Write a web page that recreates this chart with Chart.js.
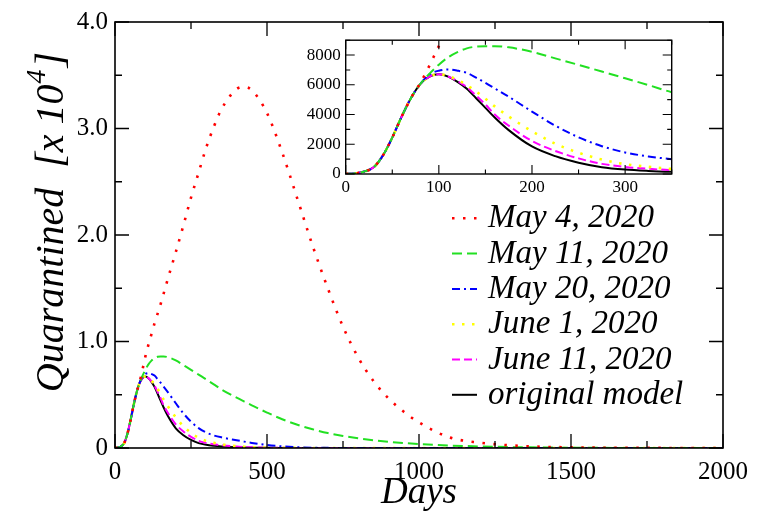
<!DOCTYPE html>
<html>
<head>
<meta charset="utf-8">
<script src="https://cdn.jsdelivr.net/npm/chart.js@4.4.0/dist/chart.umd.min.js"></script>
<style>
  html, body { margin: 0; padding: 0; background: #fff; }
  #wrap { position: relative; width: 757px; height: 517px; }
  #main { position: absolute; left: 0; top: 0; }
  #inset { position: absolute; left: 290px; top: 25px; }
</style>
</head>
<body>
<div id="wrap">
  <canvas id="main" width="757" height="517"></canvas>
  <canvas id="inset" width="395" height="175"></canvas>
</div>
<script>
// days since start, and quarantined counts (people)
const days = [0, 10, 20, 30, 40, 50, 60, 70, 80, 90, 100, 110, 120, 130, 140, 150, 160, 175,
  200, 225, 250, 275, 300, 325, 350, 400, 425, 450, 500, 550, 600, 650, 700, 750, 800, 850,
  900, 950, 1000, 1100, 1200, 1300, 1400, 1500, 1600, 1800, 2000];

const may4 = [0, 40, 170, 450, 1250, 2450, 3850, 5100, 6100, 7300, 8600, 9700, 10700, 11700,
  12600, 13500, 14500, 16000, 18400, 20900, 23500, 25850, 28200, 30150, 31800, 33700, 33900,
  33600, 31450, 27750, 23400, 19000, 15000, 11400, 8500, 6300, 4650, 3400, 2400, 1000, 500,
  250, 120, 60, 30, 8, 0];
const may11 = [0, 40, 170, 450, 1250, 2450, 3850, 5100, 6050, 6750, 7350, 7850, 8200, 8450,
  8570, 8600, 8600, 8520, 8220, 7780, 7340, 6890, 6440, 5980, 5500, 4720, 4360, 4010, 3330,
  2700, 2180, 1760, 1400, 1130, 910, 730, 585, 465, 370, 235, 145, 85, 48, 26, 13, 3, 0];
const may20 = [0, 40, 170, 450, 1250, 2450, 3850, 5100, 6050, 6700, 6950, 7030, 6950, 6800,
  6480, 6130, 5760, 5200, 4200, 3250, 2470, 1870, 1450, 1180, 1000, 730, 600, 480, 280, 150,
  70, 30, 12, 4, 1, 0, 0, 0, 0, 0, 0, 0, 0, 0, 0, 0, 0];
const june1 = [0, 40, 170, 450, 1250, 2450, 3850, 5100, 6050, 6550, 6710, 6600, 6320, 5980,
  5550, 5060, 4550, 3870, 2880, 2040, 1430, 970, 660, 480, 340, 170, 120, 80, 38, 17, 8, 3, 1,
  0, 0, 0, 0, 0, 0, 0, 0, 0, 0, 0, 0, 0, 0];
const june11 = [0, 40, 170, 450, 1250, 2450, 3850, 5100, 6050, 6550, 6710, 6560, 6250, 5850,
  5280, 4680, 4000, 3250, 2220, 1550, 1050, 680, 480, 350, 258, 130, 90, 60, 28, 13, 6, 3, 1,
  0, 0, 0, 0, 0, 0, 0, 0, 0, 0, 0, 0, 0, 0];
const original = [0, 40, 170, 450, 1250, 2450, 3850, 5100, 6050, 6550, 6710, 6550, 6200, 5740,
  5100, 4450, 3800, 2950, 1850, 1200, 760, 460, 300, 210, 150, 70, 45, 30, 15, 7, 3, 1, 0, 0,
  0, 0, 0, 0, 0, 0, 0, 0, 0, 0, 0, 0, 0];

const seriesNames = ['May 4, 2020', 'May 11, 2020', 'May 20, 2020', 'June 1, 2020',
  'June 11, 2020', 'original model'];
const seriesValues = [may4, may11, may20, june1, june11, original];

const mainXTicks = [0, 500, 1000, 1500, 2000];
const mainXMinor = [250, 750, 1250, 1750];
const mainYTicks = [0, 1, 2, 3, 4];
const mainYMinor = [0.5, 1.5, 2.5, 3.5];
const insetXTicks = [0, 100, 200, 300];
const insetXMinor = [50, 150, 250, 350];
const insetYTicks = [0, 2000, 4000, 6000, 8000];
const insetYMinor = [1000, 3000, 5000, 7000, 9000];

const looks = [
  { color: '#ff0000', dash: [2.5, 8.5], width: 2.6 },
  { color: '#22e022', dash: [10, 5], width: 2 },
  { color: '#0000ff', dash: [8, 4, 2, 4], width: 2 },
  { color: '#ffff00', dash: [2.5, 7.5], width: 2.6 },
  { color: '#ff00ff', dash: [8, 4], width: 2 },
  { color: '#000000', dash: [], width: 2 }
];

const serif = 'Liberation Serif';

function makeSets(div) {
  return seriesValues.map((vals, i) => ({
    label: seriesNames[i],
    data: days.map((d, j) => ({ x: d, y: vals[j] / div })),
    borderColor: looks[i].color,
    borderDash: looks[i].dash,
    borderWidth: looks[i].width,
    pointRadius: 0,
    fill: false,
    cubicInterpolationMode: 'monotone'
  }));
}

function frameTicks(o) {
  return {
    id: 'frameTicks',
    afterDatasetsDraw(chart) {
      const { ctx, chartArea: a } = chart;
      const x = chart.scales.x, y = chart.scales.y;
      ctx.save();
      ctx.strokeStyle = '#000';
      ctx.lineWidth = o.frame;
      ctx.strokeRect(a.left, a.top, a.right - a.left, a.bottom - a.top);
      ctx.lineWidth = o.tw;
      ctx.beginPath();
      [[o.xMajor, o.major], [o.xMinor, o.minor]].forEach(([vals, len]) => vals.forEach(v => {
        const px = x.getPixelForValue(v);
        ctx.moveTo(px, a.bottom); ctx.lineTo(px, a.bottom - len);
        ctx.moveTo(px, a.top); ctx.lineTo(px, a.top + len);
      }));
      [[o.yMajor, o.major], [o.yMinor, o.minor]].forEach(([vals, len]) => vals.forEach(v => {
        const py = y.getPixelForValue(v);
        ctx.moveTo(a.left, py); ctx.lineTo(a.left + len, py);
        ctx.moveTo(a.right, py); ctx.lineTo(a.right - len, py);
      }));
      ctx.stroke();
      ctx.restore();
    }
  };
}

// legend and axis titles of the big plot
const decor = {
  id: 'decor',
  afterDraw(chart) {
    const { ctx, chartArea: a } = chart;
    ctx.save();
    ctx.fillStyle = '#000';

    // legend
    const rowH = 35.3;
    chart.data.datasets.forEach((ds, i) => {
      const ly = 218.3 + i * rowH;
      ctx.beginPath();
      ctx.strokeStyle = ds.borderColor;
      ctx.lineWidth = ds.borderWidth;
      ctx.setLineDash(ds.borderDash);
      ctx.moveTo(452, ly);
      ctx.lineTo(477, ly);
      ctx.stroke();
      ctx.setLineDash([]);
      ctx.font = 'italic 33px "' + serif + '"';
      ctx.textAlign = 'left';
      ctx.textBaseline = 'alphabetic';
      ctx.fillText(ds.label, 488, ly + 9);
    });

    // x title
    ctx.font = 'italic 37px "' + serif + '"';
    ctx.textAlign = 'center';
    ctx.textBaseline = 'alphabetic';
    ctx.fillText('Days', (a.left + a.right) / 2, 503);

    // y title with superscript
    const big = 'italic 40px "' + serif + '"';
    const small = 'italic 28px "' + serif + '"';
    const p1 = 'Quarantined  [x 10', p2 = '4', p3 = ']';
    ctx.font = big;
    const w1 = ctx.measureText(p1).width, w3 = ctx.measureText(p3).width;
    ctx.font = small;
    const w2 = ctx.measureText(p2).width + 3;
    const total = w1 + w2 + w3;
    ctx.translate(63, 222);
    ctx.rotate(-Math.PI / 2);
    ctx.textAlign = 'left';
    let cx = -total / 2;
    ctx.font = big;
    ctx.fillText(p1, cx, 0);
    cx += w1;
    ctx.font = small;
    ctx.fillText(p2, cx + 1, -18);
    cx += w2;
    ctx.font = big;
    ctx.fillText(p3, cx, 0);
    ctx.restore();
  }
};

function fixedTicks(list) {
  return scale => { scale.ticks = list.map(v => ({ value: v })); };
}

new Chart(document.getElementById('main').getContext('2d'), {
  type: 'line',
  data: { datasets: makeSets(10000) },
  options: {
    responsive: false,
    animation: false,
    events: [],
    layout: { padding: { top: 21, right: 28, left: 0, bottom: 0 } },
    plugins: { legend: { display: false }, tooltip: { enabled: false } },
    scales: {
      x: {
        type: 'linear', min: 0, max: 2000,
        afterBuildTicks: fixedTicks(mainXTicks),
        afterFit: s => { s.height = 69; },
        grid: { display: false, drawTicks: false },
        border: { display: false },
        ticks: {
          color: '#000', padding: 9, maxRotation: 0, autoSkip: false,
          font: { family: serif, size: 25 },
          callback: v => String(v)
        }
      },
      y: {
        type: 'linear', min: 0, max: 4,
        afterBuildTicks: fixedTicks(mainYTicks),
        afterFit: s => { s.width = 115; },
        grid: { display: false, drawTicks: false },
        border: { display: false },
        ticks: {
          color: '#000', padding: 7, autoSkip: false,
          font: { family: serif, size: 25 },
          callback: v => v === 0 ? '0' : v.toFixed(1)
        }
      }
    }
  },
  plugins: [frameTicks({ frame: 1.6, tw: 1.3, major: 14, minor: 7,
    xMajor: mainXTicks, xMinor: mainXMinor, yMajor: mainYTicks, yMinor: mainYMinor }), decor]
});

new Chart(document.getElementById('inset').getContext('2d'), {
  type: 'line',
  data: { datasets: makeSets(1) },
  options: {
    responsive: false,
    animation: false,
    events: [],
    layout: { padding: { top: 9.3, right: 13.3, left: 0, bottom: 0 } },
    plugins: { legend: { display: false }, tooltip: { enabled: false } },
    scales: {
      x: {
        type: 'linear', min: 0, max: 350,
        afterBuildTicks: fixedTicks(insetXTicks),
        afterFit: s => { s.height = 26; },
        grid: { display: false, drawTicks: false },
        border: { display: false },
        ticks: {
          color: '#000', padding: 3, maxRotation: 0, autoSkip: false,
          font: { family: serif, size: 17 },
          callback: v => String(v)
        }
      },
      y: {
        type: 'linear', min: 0, max: 9000,
        afterBuildTicks: fixedTicks(insetYTicks),
        afterFit: s => { s.width = 55.7; },
        grid: { display: false, drawTicks: false },
        border: { display: false },
        ticks: {
          color: '#000', padding: 5, autoSkip: false,
          font: { family: serif, size: 17 },
          callback: v => String(v)
        }
      }
    }
  },
  plugins: [frameTicks({ frame: 1.4, tw: 1.1, major: 9, minor: 4.5,
    xMajor: insetXTicks, xMinor: insetXMinor, yMajor: insetYTicks, yMinor: insetYMinor })]
});
</script>
</body>
</html>
